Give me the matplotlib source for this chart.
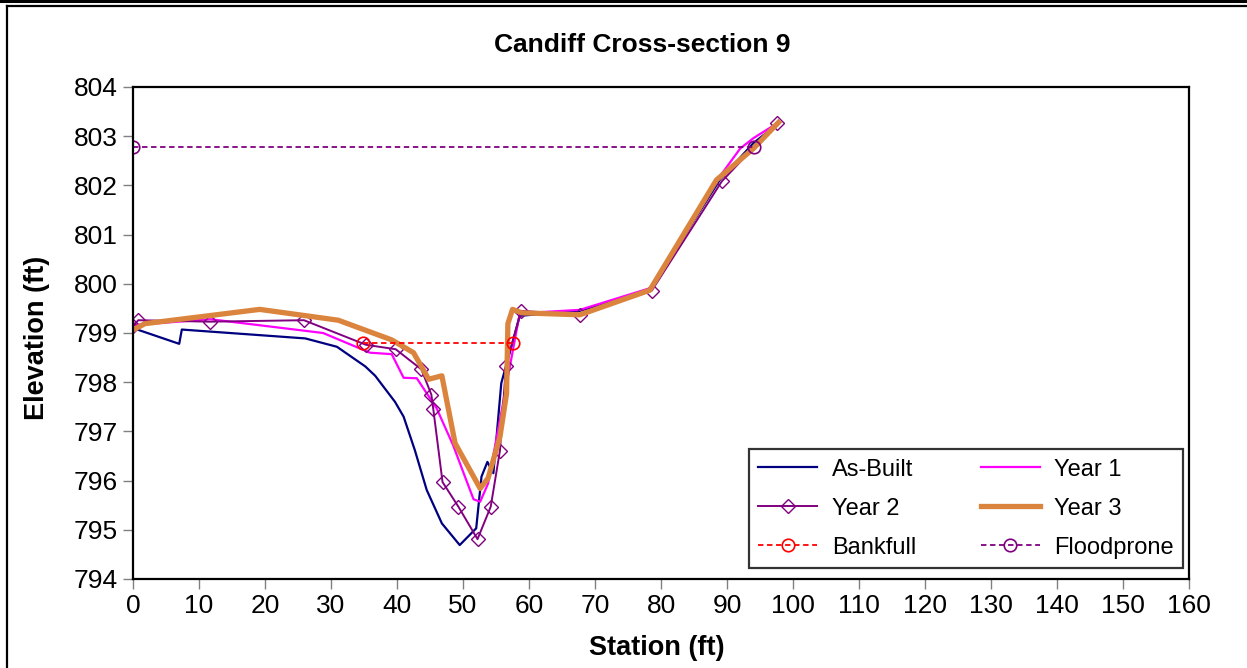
import matplotlib
matplotlib.use("Agg")
import matplotlib.pyplot as plt
from matplotlib.lines import Line2D

plt.rcParams['font.family'] = ['Liberation Sans', 'DejaVu Sans']

# survey data, station (ft) vs elevation (ft)
asbuilt_x = [0, 7.0, 7.4, 26.1, 30.9, 35.2, 36.7, 39.7, 41.0, 42.7, 44.5, 46.8, 49.5,
             52.0, 52.8, 53.7, 54.6, 55.8, 58.6, 67.7, 78.3, 88.9, 94.0, 97.8]
asbuilt_y = [799.10, 798.78, 799.07, 798.89, 798.72, 798.32, 798.13, 797.60, 797.30, 796.62,
             795.81, 795.13, 794.69, 795.03, 796.08, 796.38, 796.15, 797.98, 799.35, 799.45,
             799.87, 802.11, 802.86, 803.26]

year1_x = [0, 11.7, 28.8, 35.9, 39.2, 41.0, 43.0, 46.0, 48.5, 50.1, 51.6, 52.6, 53.8,
           58.6, 67.7, 78.3, 88.9, 92.0, 94.0, 97.8]
year1_y = [799.16, 799.28, 799.00, 798.60, 798.57, 798.09, 798.08, 797.47, 796.72, 796.15,
           795.62, 795.57, 795.94, 799.40, 799.47, 799.91, 802.18, 802.75, 802.96, 803.28]

year2_x = [0, 0.8, 11.6, 25.9, 35.3, 39.8, 43.7, 45.2, 45.5, 46.9, 49.3, 52.2, 54.2,
           55.6, 56.5, 58.8, 67.7, 78.6, 89.2, 97.5]
year2_y = [799.14, 799.26, 799.23, 799.26, 798.76, 798.67, 798.26, 797.75, 797.45, 795.97,
           795.47, 794.81, 795.47, 796.61, 798.32, 799.45, 799.37, 799.86, 802.08, 803.26]

year3_x = [0, 1.8, 19.2, 31.1, 39.2, 42.5, 44.8, 46.8, 48.8, 52.6, 53.8, 55.6, 56.6,
           56.8, 57.5, 58.9, 67.7, 78.3, 88.4, 94.0, 97.8]
year3_y = [799.06, 799.19, 799.48, 799.26, 798.86, 798.60, 798.06, 798.13, 796.76, 795.84,
           796.05, 796.89, 797.77, 799.19, 799.48, 799.41, 799.37, 799.87, 802.11, 802.75, 803.28]

bankfull_x = [34.8, 57.6]
bankfull_y = [798.80, 798.80]

floodprone_x = [0, 94.1]
floodprone_y = [802.78, 802.78]

x_ticks = list(range(0, 161, 10))
y_ticks = list(range(794, 805))

fig = plt.figure(figsize=(12.47, 6.68), dpi=100)
ax = fig.add_axes([133 / 1247, 1 - 579 / 668, (1189 - 133) / 1247, (579 - 87) / 668])

h_ab, = ax.plot(asbuilt_x, asbuilt_y, color='#000080', lw=1.6, label='As-Built')
h_y1, = ax.plot(year1_x, year1_y, color='#FF00FF', lw=1.6, label='Year 1')
h_y2, = ax.plot(year2_x, year2_y, color='#800080', lw=1.4, marker='D', ms=7, mfc='none',
                mec='#800080', mew=1.0, label='Year 2')
h_y3, = ax.plot(year3_x, year3_y, color='#DB843D', lw=3.8, label='Year 3')
h_bf, = ax.plot(bankfull_x, bankfull_y, color='#FF0000', lw=1.3, ls=(0, (3, 2)), marker='o',
                ms=9, mfc='none', mec='#FF0000', mew=1.2, label='Bankfull')
h_fp, = ax.plot(floodprone_x, floodprone_y, color='#800080', lw=1.3, ls=(0, (3, 2)), marker='o',
                ms=9, mfc='none', mec='#800080', mew=1.2, label='Floodprone')

ax.set_xlim(0, 160)
ax.set_ylim(794, 804)
ax.set_xticks(x_ticks)
ax.set_yticks(y_ticks)
ax.tick_params(axis='both', direction='out', length=7, width=1, color='#808080',
               labelsize=19, pad=4)
for s in ax.spines.values():
    s.set_linewidth(1.6)
    s.set_color('black')

fig.text(642 / 1247, 1 - 45 / 668, 'Candiff Cross-section 9', ha='center', va='center',
         fontsize=19, fontweight='bold')
fig.text(657 / 1247, 1 - 648 / 668, 'Station (ft)', ha='center', va='center',
         fontsize=19.5, fontweight='bold')
fig.text(37 / 1247, 1 - 338 / 668, 'Elevation (ft)', ha='center', va='center',
         fontsize=19.5, fontweight='bold', rotation=90)

# legend filled column by column, so list handles in that order
handles = [h_ab, h_y2, h_bf, h_y1, h_y3, h_fp]
leg = ax.legend(handles, [h.get_label() for h in handles], ncol=2, loc='lower left',
                bbox_to_anchor=((749 - 133) / 1056, (579 - 568) / 492,
                                (1183 - 749) / 1056, (568 - 451) / 492),
                mode='expand', fontsize=17, frameon=True, fancybox=False,
                edgecolor='black', handlelength=2.5, handletextpad=0.6,
                borderaxespad=0, borderpad=0.4, labelspacing=0.72, columnspacing=1.0)
leg.get_frame().set_linewidth(1.6)

# outer chart border
fig.add_artist(Line2D([0, 1], [1 - 1 / 668, 1 - 1 / 668], transform=fig.transFigure,
                      color='black', lw=2.2))
fig.add_artist(Line2D([7 / 1247, 1], [1 - 5.5 / 668, 1 - 5.5 / 668], transform=fig.transFigure,
                      color='black', lw=1.6))
fig.add_artist(Line2D([7 / 1247, 7 / 1247], [0, 1 - 5.5 / 668], transform=fig.transFigure,
                      color='black', lw=1.6))

fig.savefig('out.png', dpi=100)
